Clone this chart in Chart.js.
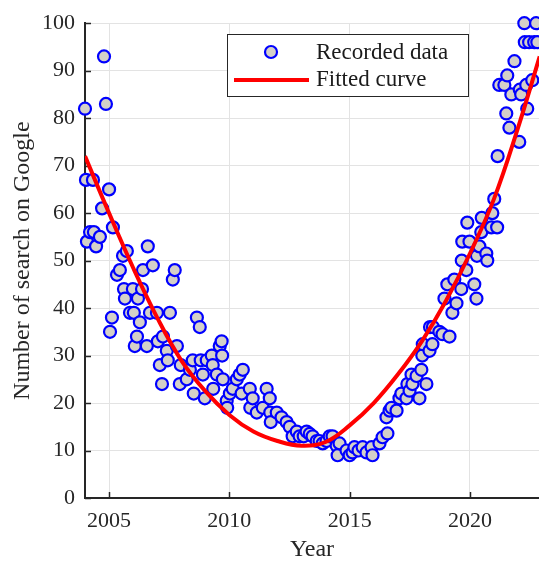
<!DOCTYPE html>
<html>
<head>
<meta charset="utf-8">
<script src="https://cdn.jsdelivr.net/npm/chart.js@4.4.0/dist/chart.umd.min.js"></script>
<style>
    html, body { margin: 0; padding: 0; background: #fff; }
    #wrap { width: 539px; height: 561px; }
</style>
</head>
<body>
<div id="wrap"><canvas id="grafico" width="539" height="561"></canvas></div>
<script>
// ========================
// DADOS
// ========================

// anos (decimal) de cada registo mensal
const anos = [
    2004.00, 2004.04, 2004.08, 2004.21, 2004.33, 2004.37, 2004.46, 2004.62, 2004.71, 2004.79, 2004.87,
    2005.00, 2005.04, 2005.12, 2005.16, 2005.33, 2005.45, 2005.58, 2005.62, 2005.66, 2005.74, 2005.87, 2005.99,
    2006.03, 2006.07, 2006.16, 2006.20, 2006.28, 2006.37, 2006.41, 2006.57, 2006.61, 2006.70, 2006.82, 2006.99,
    2007.03, 2007.11, 2007.20, 2007.24, 2007.40, 2007.44, 2007.53, 2007.65, 2007.73, 2007.82, 2007.94, 2007.98,
    2008.23, 2008.36, 2008.48, 2008.52, 2008.65, 2008.77, 2008.81, 2008.90, 2008.98,
    2009.06, 2009.27, 2009.31, 2009.33, 2009.48, 2009.60, 2009.68, 2009.70, 2009.73, 2009.89, 2009.91,
    2010.02, 2010.14, 2010.31, 2010.43, 2010.51, 2010.56, 2010.85, 2010.87, 2010.97,
    2011.14, 2011.39, 2011.55, 2011.68, 2011.70, 2011.72, 2011.97,
    2012.17, 2012.38, 2012.51, 2012.63, 2012.80, 2012.92,
    2013.09, 2013.21, 2013.34, 2013.46, 2013.63, 2013.75, 2013.88,
    2014.04, 2014.17, 2014.29, 2014.46, 2014.50, 2014.58, 2014.87,
    2015.00, 2015.12, 2015.20, 2015.37, 2015.54, 2015.70, 2015.91, 2015.95,
    2016.24, 2016.37, 2016.53, 2016.57, 2016.66, 2016.74, 2016.95,
    2017.07, 2017.15, 2017.36, 2017.40, 2017.49, 2017.57, 2017.61, 2017.78, 2017.90, 2017.98,
    2018.02, 2018.04, 2018.19, 2018.32, 2018.34, 2018.44, 2018.46, 2018.73, 2018.86, 2018.94,
    2019.06, 2019.15, 2019.27, 2019.35, 2019.44, 2019.64, 2019.66, 2019.68, 2019.85, 2019.89, 2019.98,
    2020.18, 2020.27, 2020.29, 2020.39, 2020.47, 2020.49, 2020.68, 2020.72, 2020.89, 2020.93,
    2021.01, 2021.13, 2021.15, 2021.22, 2021.43, 2021.51, 2021.55, 2021.64, 2021.72, 2021.85,
    2022.05, 2022.07, 2022.13, 2022.26, 2022.28, 2022.34, 2022.38, 2022.46, 2022.59, 2022.67, 2022.75, 2022.80
];

// numero de pesquisas no Google
const buscas = [
    82, 67, 54, 56, 67, 56, 53, 55, 61, 93, 83,
    65, 35, 38, 57, 47, 48, 51, 44, 42, 52, 39, 44,
    39, 32, 34, 42, 37, 44, 48, 32, 53, 39, 49, 39,
    33, 28, 24, 34, 31, 29, 39, 46, 48, 32, 24, 28,
    25, 27, 29, 22, 38, 36, 29, 26, 21,
    29, 30, 28, 23, 26, 32, 33, 30, 25, 20.5, 19,
    22, 23, 25, 26, 22, 27, 23, 19, 21,
    18, 19, 23, 21, 18, 16, 18,
    17, 16, 15, 13, 14, 13,
    13, 14, 13.5, 13, 12, 12, 11.5,
    12, 13, 13, 11, 9, 11.5, 10,
    9, 9.6, 10.7, 10, 10.7, 9.6, 10.7, 9,
    11.5, 12.8, 17, 13.6, 18.4, 19, 18.4,
    21, 22, 21, 24, 22.6, 26, 24, 25.7, 21, 27,
    30, 32.4, 24, 31, 36, 32.4, 36, 35, 34.5, 42,
    45, 34, 39, 46, 41, 44, 50, 54, 48, 58, 54,
    45, 42, 51, 53, 56, 59, 51.5, 50, 57, 60,
    63, 57, 72, 87, 87, 81, 89, 78, 85, 92,
    75, 86, 85, 100, 96, 87, 82, 96, 88, 96, 100, 96
];

// curva ajustada
const anosCurva = [2004, 2005, 2006, 2007, 2008, 2009, 2010, 2011, 2012, 2013, 2014,
                   2015, 2016, 2017, 2018, 2019, 2020, 2021, 2022, 2022.9];
const valoresCurva = [72, 60, 48.5, 38, 29, 22.5, 17.5, 14, 12, 11, 11.8,
                      15.3, 20, 26, 33, 41.5, 51.5, 63, 78, 93];

const ticksAnos = [2005, 2010, 2015, 2020];
const ticksBuscas = [0, 10, 20, 30, 40, 50, 60, 70, 80, 90, 100];

// ========================
// PLUGINS
// ========================

const fonte = "'Liberation Serif', 'Times New Roman', serif";
const corTexto = '#262626';

// marcas dos eixos viradas para dentro (estilo matlab)
const ticksInternos = {
    id: 'ticksInternos',
    beforeDatasetsDraw(chart) {
        const { ctx, chartArea, scales } = chart;
        ctx.save();
        ctx.strokeStyle = corTexto;
        ctx.lineWidth = 1.5;
        ticksAnos.forEach(v => {
            const px = Math.round(scales.x.getPixelForValue(v)) + 0.5;
            ctx.beginPath();
            ctx.moveTo(px, chartArea.bottom);
            ctx.lineTo(px, chartArea.bottom - 6);
            ctx.stroke();
        });
        ticksBuscas.forEach(v => {
            const py = Math.round(scales.y.getPixelForValue(v)) + 0.5;
            ctx.beginPath();
            ctx.moveTo(chartArea.left, py);
            ctx.lineTo(chartArea.left + 6, py);
            ctx.stroke();
        });
        ctx.restore();
    }
};

// legenda dentro da area do grafico
const legendaCaixa = {
    id: 'legendaCaixa',
    afterDraw(chart) {
        const ctx = chart.ctx;
        ctx.save();
        ctx.fillStyle = '#fff';
        ctx.fillRect(227, 34, 241, 62);
        ctx.strokeStyle = corTexto;
        ctx.lineWidth = 1;
        ctx.strokeRect(227.5, 34.5, 241, 62);

        ctx.beginPath();
        ctx.arc(271, 52, 6, 0, Math.PI * 2);
        ctx.fillStyle = '#d4d0c8';
        ctx.fill();
        ctx.lineWidth = 2.2;
        ctx.strokeStyle = '#0000ff';
        ctx.stroke();

        ctx.beginPath();
        ctx.moveTo(234, 80);
        ctx.lineTo(309, 80);
        ctx.lineWidth = 4;
        ctx.strokeStyle = '#ff0000';
        ctx.stroke();

        ctx.fillStyle = '#1a1a1a';
        ctx.font = '23px ' + fonte;
        ctx.textBaseline = 'middle';
        ctx.textAlign = 'left';
        ctx.fillText('Recorded data', 316, 53);
        ctx.fillText('Fitted curve', 316, 80);
        ctx.restore();
    }
};

// ========================
// GRAFICO
// ========================

function desenhaGrafico() {
    const ctx = document.getElementById('grafico');

    new Chart(ctx, {
        type: 'scatter',
        data: {
            datasets: [{
                type: 'line',
                label: 'Fitted curve',
                data: anosCurva.map((a, i) => ({ x: a, y: valoresCurva[i] })),
                borderColor: '#ff0000',
                borderWidth: 4,
                pointRadius: 0,
                tension: 0.4,
                fill: false,
                order: 0
            }, {
                label: 'Recorded data',
                data: anos.map((a, i) => ({ x: a, y: buscas[i] })),
                backgroundColor: '#d4d0c8',
                borderColor: '#0000ff',
                borderWidth: 2.2,
                pointRadius: 6,
                clip: false,
                order: 1
            }]
        },
        options: {
            responsive: false,
            animation: false,
            layout: { autoPadding: false, padding: { top: 20, right: 0, bottom: 0, left: 0 } },
            plugins: {
                legend: { display: false },
                tooltip: { enabled: false }
            },
            scales: {
                x: {
                    type: 'linear',
                    min: 2004,
                    max: 2022.87,
                    afterBuildTicks: s => { s.ticks = ticksAnos.map(v => ({ value: v })); },
                    afterFit: s => { s.height = 63; },
                    grid: { color: '#e3e3e3', drawTicks: false },
                    border: { color: corTexto, width: 2 },
                    ticks: {
                        color: corTexto,
                        font: { family: fonte, size: 22 },
                        padding: 10,
                        maxRotation: 0,
                        callback: v => String(v)
                    },
                    title: {
                        display: true,
                        text: 'Year',
                        color: corTexto,
                        font: { family: fonte, size: 24 },
                        padding: { top: 0, bottom: -3 }
                    }
                },
                y: {
                    min: 0,
                    max: 100,
                    afterBuildTicks: s => { s.ticks = ticksBuscas.map(v => ({ value: v })); },
                    afterFit: s => { s.width = 85; },
                    grid: { color: '#e3e3e3', drawTicks: false },
                    border: { color: corTexto, width: 2 },
                    ticks: {
                        color: corTexto,
                        font: { family: fonte, size: 22 },
                        padding: 10
                    },
                    title: {
                        display: true,
                        text: 'Number of search on Google',
                        color: corTexto,
                        font: { family: fonte, size: 24 },
                        padding: { top: 8, bottom: 0 }
                    }
                }
            }
        },
        plugins: [ticksInternos, legendaCaixa]
    });
}

desenhaGrafico();
</script>
</body>
</html>
